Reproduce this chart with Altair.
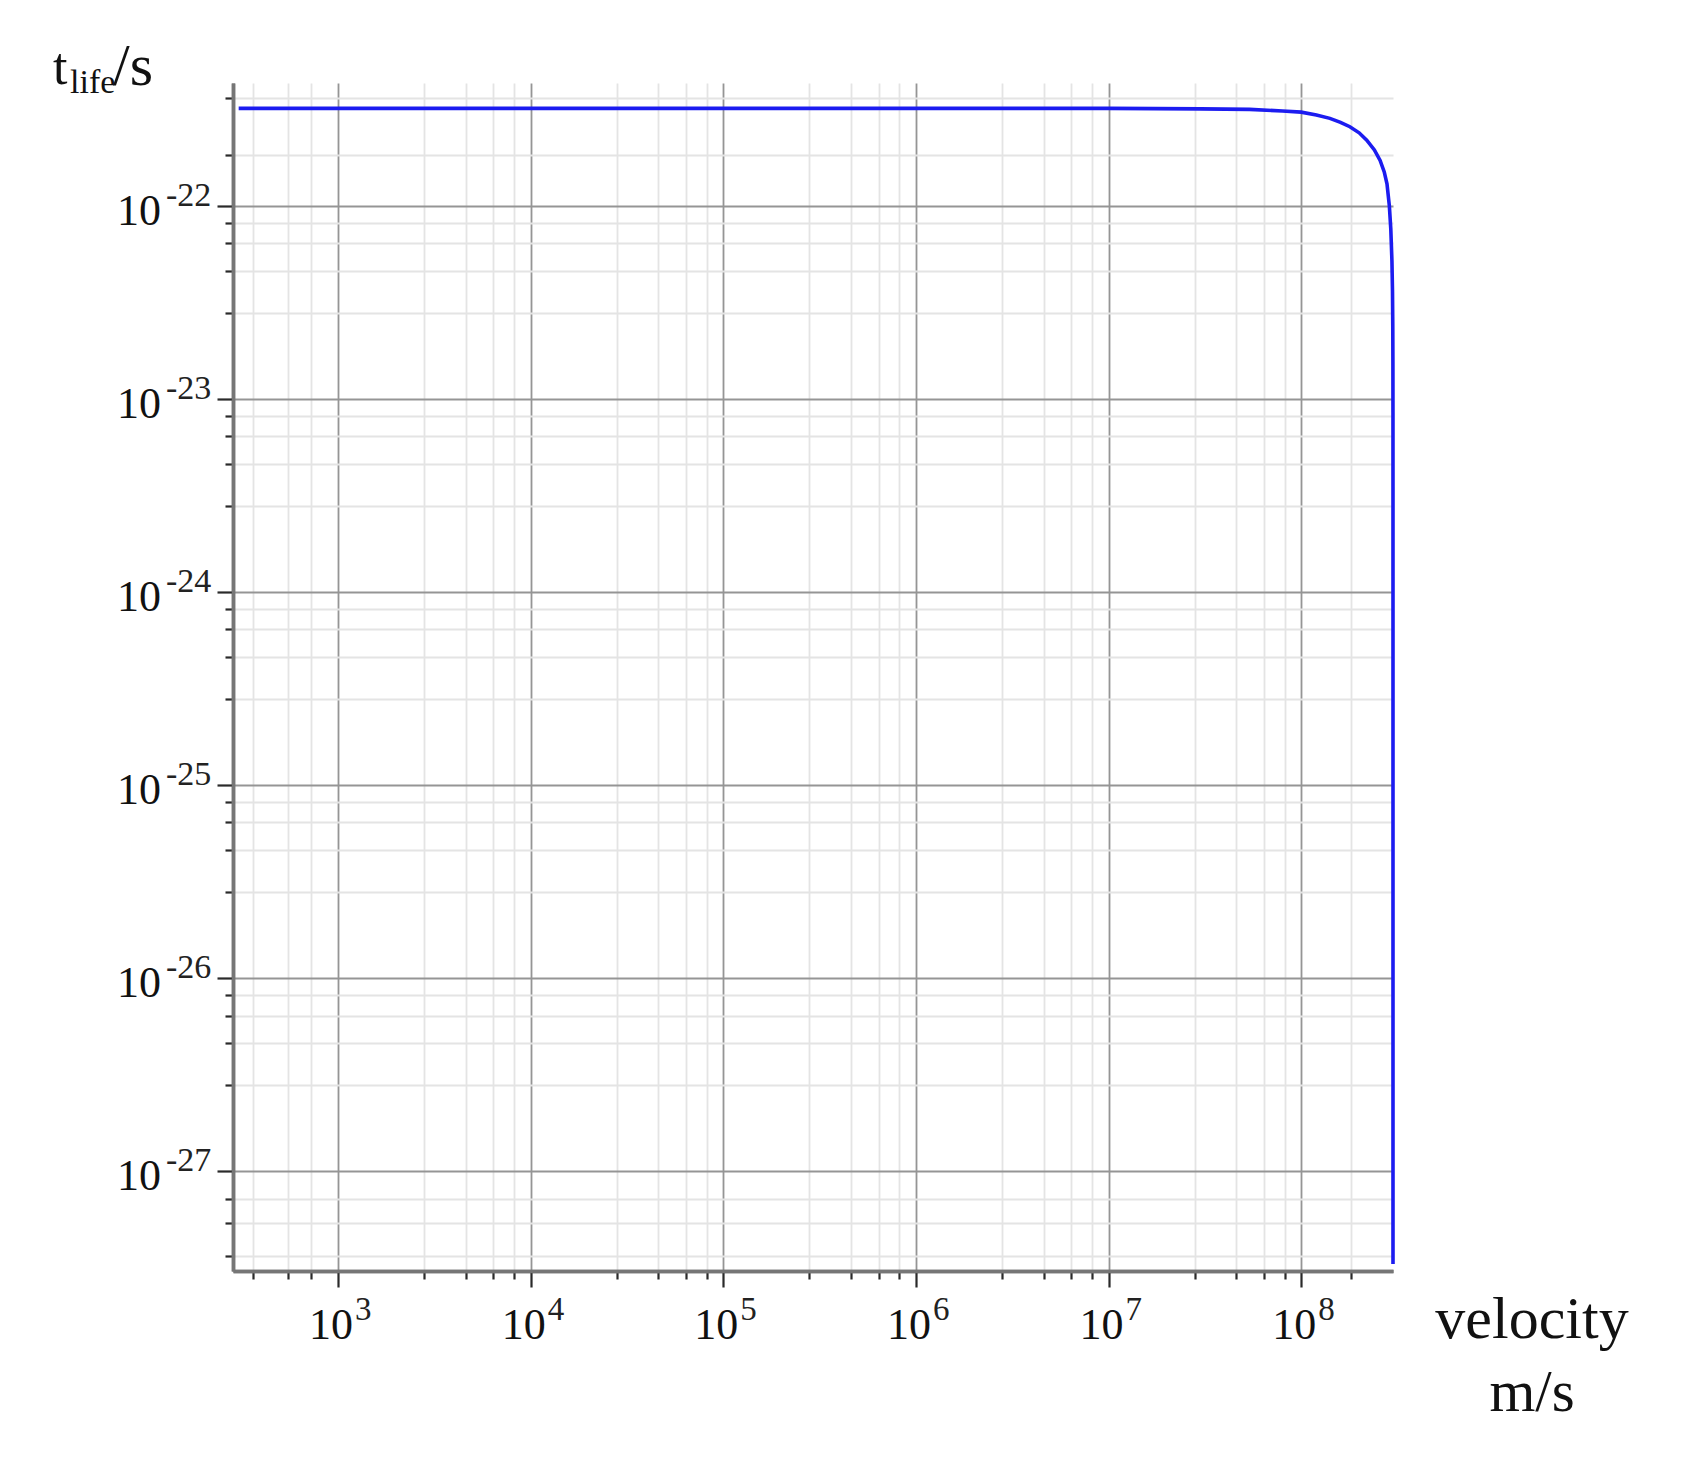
import altair as alt
import pandas as pd

SERIF = "Liberation Serif"

# ---- data ----
velocity = [305, 1e3, 1e4, 1e5, 1e6, 1e7, 3e7, 5.4e7, 8e7, 1e8, 1.2e8, 1.41e8,
            1.6e8, 1.79e8, 2.0e8, 2.19e8, 2.4e8, 2.57e8, 2.7e8, 2.79e8, 2.87e8,
            2.92e8, 2.96e8, 2.98e8, 2.99e8, 2.995e8, 2.997e8, 2.9978e8, 2.9979e8,
            2.99792e8, 2.997924e8, 2.9979245e8]
lifetime = [3.2e-22, 3.2e-22, 3.2e-22, 3.2e-22, 3.2e-22, 3.2e-22, 3.18e-22, 3.16e-22,
            3.1e-22, 3.06e-22, 2.96e-22, 2.84e-22, 2.71e-22, 2.57e-22, 2.39e-22,
            2.19e-22, 1.95e-22, 1.72e-22, 1.5e-22, 1.3e-22, 1.0e-22, 7.6e-23, 5.2e-23,
            3.6e-23, 2.4e-23, 1.5e-23, 8.5e-24, 3.5e-24, 1.2e-24, 2e-25, 6e-27, 3.3e-28]

x_exponents = [3, 4, 5, 6, 7, 8]
y_exponents = [-22, -23, -24, -25, -26, -27]
minor_mults = [2.8, 4.6, 6.4, 8.2]
x_minor_low = [3.63e2, 5.51e2, 7.28e2]
x_minor_high = [1.82e8]
y_minor_low = [3.65e-28, 5.42e-28, 7.18e-28]
y_minor_high = [1.83e-22, 3.61e-22]

x_domain = [285, 2.998e8]
y_domain = [3.04e-28, 4.33e-22]

# ---- tick lists ----
x_major = [10.0 ** e for e in x_exponents]
y_major = [10.0 ** e for e in y_exponents]
x_minor = x_minor_low + [m * 10.0 ** n for n in range(3, 8) for m in minor_mults] + x_minor_high
y_minor = y_minor_low + [m * 10.0 ** n for n in range(-27, -22) for m in minor_mults] + y_minor_high


def make_axis(values, orient, size, grid_color, grid_width):
    return alt.Axis(
        values=values, orient=orient, labels=False, title=None, grid=True,
        domainColor="#767676", domainWidth=3.5,
        tickColor="#2a2a2a", tickWidth=2.2, tickSize=size,
        gridColor=grid_color, gridWidth=grid_width,
    )


xscale = alt.Scale(type="log", domain=x_domain, nice=False)
yscale = alt.Scale(type="log", domain=y_domain, nice=False)

df = pd.DataFrame({"v": velocity, "t": lifetime})

# minor ticks / grid (invisible carrier layer)
minor = alt.Chart(df).mark_line(opacity=0).encode(
    x=alt.X("v:Q", scale=xscale, axis=make_axis(x_minor, "bottom", 8, "#e4e4e4", 1.8)),
    y=alt.Y("t:Q", scale=yscale, axis=make_axis(y_minor, "left", 8, "#e4e4e4", 1.8)),
)

line = alt.Chart(df).mark_line(color="#1c1cf0", strokeWidth=3.6).encode(
    x=alt.X("v:Q", scale=xscale, axis=make_axis(x_major, "bottom", 16, "#959595", 1.8)),
    y=alt.Y("t:Q", scale=yscale, axis=make_axis(y_major, "left", 16, "#959595", 1.8)),
)

xlab = pd.DataFrame({"v": x_major, "e": [str(e) for e in x_exponents]})
ylab = pd.DataFrame({"t": y_major, "e": [str(e) for e in y_exponents]})

x_base = alt.Chart(xlab).mark_text(font=SERIF, fontSize=44, align="right", baseline="alphabetic",
                                   dx=15, color="#111111").encode(
    x=alt.X("v:Q", scale=xscale, axis=None), y=alt.value(1256), text=alt.value("10"))
x_exp = alt.Chart(xlab).mark_text(font=SERIF, fontSize=33, align="left", baseline="alphabetic",
                                  dx=17, color="#222222").encode(
    x=alt.X("v:Q", scale=xscale, axis=None), y=alt.value(1237), text="e:N")

y_base = alt.Chart(ylab).mark_text(font=SERIF, fontSize=44, align="right", baseline="alphabetic",
                                   dy=19, color="#111111").encode(
    y=alt.Y("t:Q", scale=yscale, axis=None), x=alt.value(-72), text=alt.value("10"))
y_exp = alt.Chart(ylab).mark_text(font=SERIF, fontSize=34, align="left", baseline="alphabetic",
                                  dy=0, color="#222222").encode(
    y=alt.Y("t:Q", scale=yscale, axis=None), x=alt.value(-67), text="e:N")

one = alt.Data(values=[{}])


def label(txt, x, y, size, align="left"):
    return alt.Chart(one).mark_text(font=SERIF, fontSize=size, align=align, baseline="alphabetic",
                                    color="#111111").encode(
        x=alt.value(x), y=alt.value(y), text=alt.value(txt))


titles = [
    label("t", -180, 1, 52),
    label("life", -163, 10, 34),
    label("/s", -120, 2, 60),
    label("velocity", 1299, 1255, 60, "center"),
    label("m/s", 1299, 1328, 59, "center"),
]

chart = alt.layer(minor, line, x_base, x_exp, y_base, y_exp, *titles).resolve_axis(
    x="independent", y="independent"
).properties(
    width=1160, height=1188,
    background="white",
    autosize=alt.AutoSizeParams(type="none"),
    padding={"left": 225, "top": 75, "right": 290, "bottom": 170},
).configure_view(stroke=None)

chart.save("out.html", embed_options={"renderer": "svg", "actions": False})
